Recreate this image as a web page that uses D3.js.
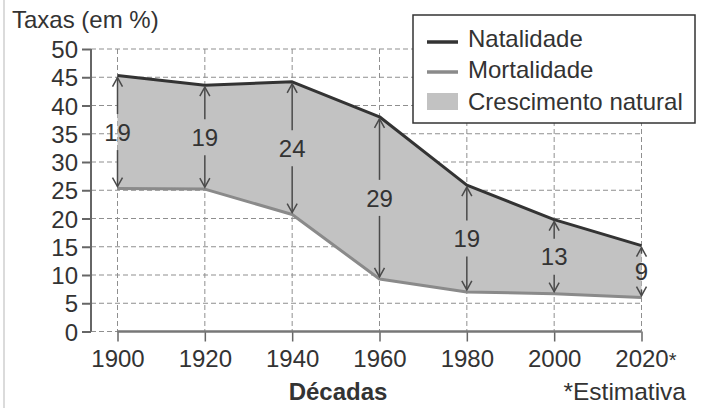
<!DOCTYPE html>
<html><head><meta charset="utf-8">
<script src="https://cdn.jsdelivr.net/npm/d3@7"></script>
<style>
html,body{margin:0;padding:0;background:#fff;}
svg text{font-family:"Liberation Sans",Arial,Helvetica,sans-serif;fill:#333;}
</style></head>
<body><svg id="chart" width="702" height="408"></svg>
<script>
const decades = [1900, 1920, 1940, 1960, 1980, 2000, 2020];
const tickLabels = ["1900", "1920", "1940", "1960", "1980", "2000", "2020"];
const natalidade = [45.3, 43.6, 44.2, 38.0, 25.9, 19.8, 15.2];
const mortalidade = [25.3, 25.2, 20.7, 9.3, 7.0, 6.7, 6.0];
const crescimento = [19, 19, 24, 29, 19, 13, 9];
const yTicks = [0, 5, 10, 15, 20, 25, 30, 35, 40, 45, 50];
const legendItems = ["Natalidade", "Mortalidade", "Crescimento natural"];

const svg = d3.select("#chart");
const x = d3.scaleLinear().domain([1900, 2020]).range([117.5, 641.5]);
const y = d3.scaleLinear().domain([0, 50]).range([331.5, 49]);
const axisX = 91;
const grid = "#8f8f8f";

// left border
svg.append("line").attr("x1", 4).attr("x2", 4).attr("y1", 0).attr("y2", 408)
  .attr("stroke", "#cfcfcf").attr("stroke-width", 1.5);

// gridlines
svg.append("g").selectAll("line").data(yTicks).join("line")
  .attr("x1", axisX).attr("x2", x(2020)).attr("y1", d => y(d)).attr("y2", d => y(d))
  .attr("stroke", grid).attr("stroke-width", 1).attr("stroke-dasharray", "5,3");
svg.append("g").selectAll("line").data(decades).join("line")
  .attr("x1", d => x(d)).attr("x2", d => x(d)).attr("y1", y(50)).attr("y2", y(0))
  .attr("stroke", grid).attr("stroke-width", 1).attr("stroke-dasharray", "5,3");

const data = decades.map((d, i) => ({ d, n: natalidade[i], m: mortalidade[i], c: crescimento[i] }));
const curve = d3.curveLinear;

svg.append("path").datum(data)
  .attr("d", d3.area().x(p => x(p.d)).y0(p => y(p.m)).y1(p => y(p.n)).curve(curve))
  .attr("fill", "#c2c2c2");

// Y axis
const yAxis = d3.axisLeft(y).tickValues(yTicks).tickSize(9).tickPadding(4);
const gy = svg.append("g").attr("transform", `translate(${axisX},0)`).call(yAxis);
gy.select(".domain").remove();
gy.append("line").attr("x1", 0).attr("x2", 0).attr("y1", y(50)).attr("y2", y(0))
  .attr("stroke", "#666").attr("stroke-width", 2);
gy.selectAll(".tick line").attr("stroke", "#666").attr("stroke-width", 2);
gy.selectAll(".tick text").attr("font-size", 24).attr("fill", "#333")
  .attr("font-family", "Liberation Sans, Arial, sans-serif").attr("dy", "0.36em");

// X axis
const xAxis = d3.axisBottom(x).tickValues(decades).tickFormat((d, i) => tickLabels[i]).tickSize(10).tickPadding(8);
const gx = svg.append("g").attr("transform", `translate(0,${y(0)})`).call(xAxis);
gx.select(".domain").remove();
gx.append("line").attr("x1", x(1900)).attr("x2", x(2020)).attr("y1", 0).attr("y2", 0)
  .attr("stroke", "#777").attr("stroke-width", 2.5);
gx.selectAll(".tick line").attr("stroke", "#666").attr("stroke-width", 1.5);
gx.selectAll(".tick text").attr("font-size", 24).attr("fill", "#333")
  .attr("font-family", "Liberation Sans, Arial, sans-serif");
// asterisk for the estimate: keep "2020" centred on its tick, append "*"
gx.selectAll(".tick text").filter(d => d === 2020).each(function () {
  const t = d3.select(this);
  const w = this.getComputedTextLength();
  t.attr("text-anchor", "start").attr("x", -w / 2);
  t.append("tspan").attr("font-size", 20).text("*");
});

// lines
svg.append("path").datum(data)
  .attr("d", d3.line().x(p => x(p.d)).y(p => y(p.m)).curve(curve))
  .attr("fill", "none").attr("stroke", "#8a8a8a").attr("stroke-width", 3).attr("stroke-linejoin", "round");
svg.append("path").datum(data)
  .attr("d", d3.line().x(p => x(p.d)).y(p => y(p.n)).curve(curve))
  .attr("fill", "none").attr("stroke", "#333").attr("stroke-width", 3).attr("stroke-linejoin", "round");

// arrows
const arrowColor = "#4a4a4a";
const gapHalf = 18;
const ag = svg.append("g");
data.forEach(p => {
  const cx = x(p.d), top = y(p.n) + 2, bot = y(p.m) - 2, mid = (top + bot) / 2;
  const g = ag.append("g");
  g.append("line").attr("x1", cx).attr("x2", cx).attr("y1", top).attr("y2", mid - gapHalf)
    .attr("stroke", arrowColor).attr("stroke-width", 1.5);
  g.append("line").attr("x1", cx).attr("x2", cx).attr("y1", mid + gapHalf).attr("y2", bot)
    .attr("stroke", arrowColor).attr("stroke-width", 1.5);
  g.append("path").attr("d", `M${cx - 5},${top + 9}L${cx},${top}L${cx + 5},${top + 9}`)
    .attr("fill", "none").attr("stroke", arrowColor).attr("stroke-width", 1.5);
  g.append("path").attr("d", `M${cx - 5},${bot - 9}L${cx},${bot}L${cx + 5},${bot - 9}`)
    .attr("fill", "none").attr("stroke", arrowColor).attr("stroke-width", 1.5);
  g.append("text").attr("x", cx).attr("y", mid).attr("dy", "0.36em").attr("text-anchor", "middle")
    .attr("font-size", 24).attr("fill", "#3a3a3a").text(p.c);
});

// title
svg.append("text").attr("x", 12).attr("y", 28).attr("font-size", 24).attr("fill", "#333").text("Taxas (em %)");

// legend
const lg = svg.append("g").attr("transform", "translate(413,15)");
lg.append("rect").attr("width", 282).attr("height", 108).attr("fill", "#fff")
  .attr("stroke", "#333").attr("stroke-width", 1.5);
const legendRowY = [27, 57, 86];
const legendBase = [32, 63, 95];
lg.append("line").attr("x1", 14).attr("x2", 45).attr("y1", legendRowY[0]).attr("y2", legendRowY[0])
  .attr("stroke", "#333").attr("stroke-width", 3.5);
lg.append("line").attr("x1", 14).attr("x2", 45).attr("y1", legendRowY[1]).attr("y2", legendRowY[1])
  .attr("stroke", "#8a8a8a").attr("stroke-width", 3.5);
lg.append("rect").attr("x", 14).attr("y", legendRowY[2] - 8).attr("width", 31).attr("height", 17)
  .attr("fill", "#c2c2c2");
lg.selectAll("text.l").data(legendItems).join("text").attr("class", "l")
  .attr("x", 55).attr("y", (d, i) => legendBase[i])
  .attr("font-size", 24).attr("fill", "#333").text(d => d);

// bottom labels
svg.append("text").attr("x", 338).attr("y", 400).attr("text-anchor", "middle")
  .attr("font-size", 24).attr("font-weight", "bold").attr("fill", "#333").text("Décadas");
svg.append("text").attr("x", 686).attr("y", 400).attr("text-anchor", "end")
  .attr("font-size", 24.5).attr("fill", "#333").text("*Estimativa");
</script></body></html>
